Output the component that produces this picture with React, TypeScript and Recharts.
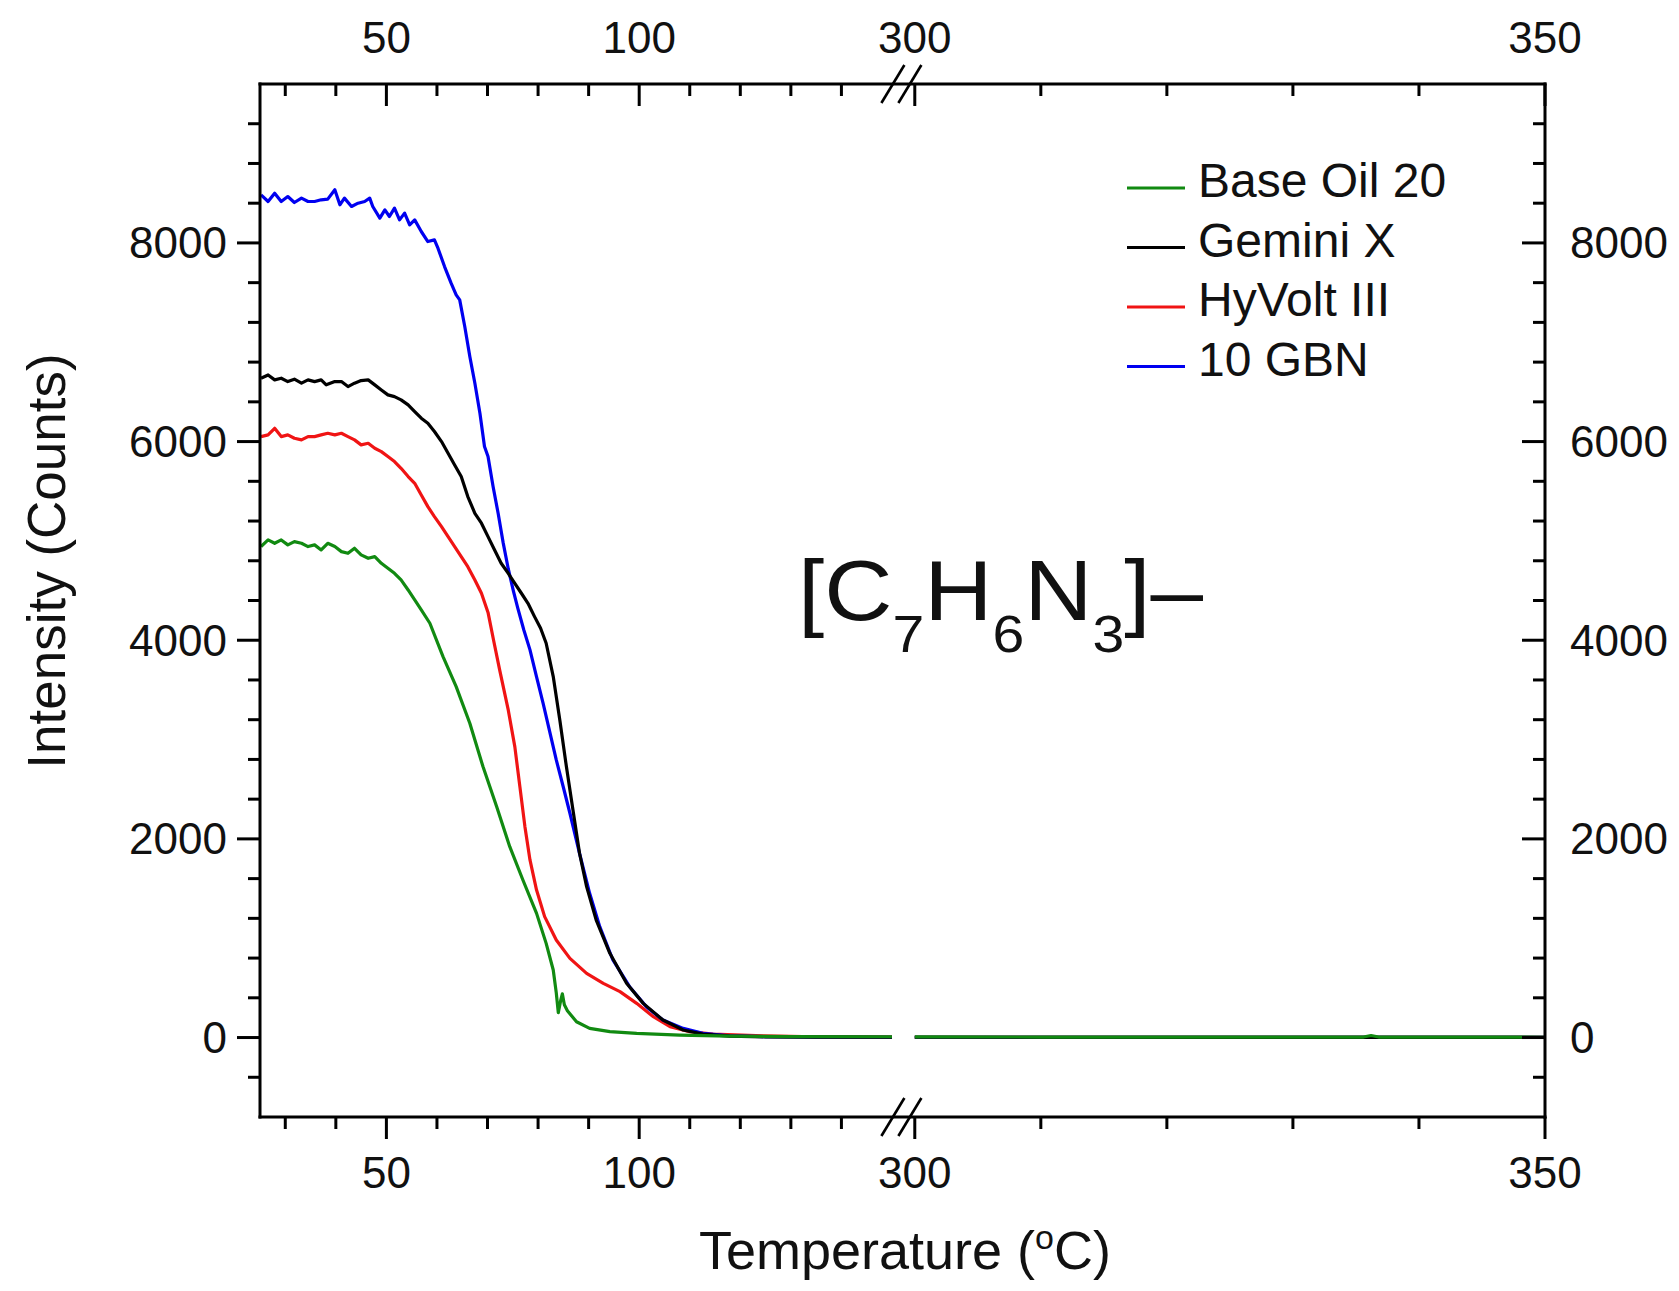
import React from 'react'
import { LineChart, Line, XAxis, YAxis } from 'recharts'

const FONT = '"Liberation Sans", Arial, Helvetica, sans-serif'

// temperature (ºC) / intensity (counts)
const baseOil20: [number, number][] = [
  [25.2, 4943], [26.6, 5010], [27.9, 4976], [29.2, 5010], [30.5, 4960], [31.8, 4993], [33.2, 4976],
  [34.5, 4943], [35.8, 4960], [37.1, 4909], [38.4, 4976], [39.8, 4943], [41.1, 4892], [42.4, 4875],
  [43.7, 4926], [45.0, 4859], [46.4, 4825], [47.7, 4842], [49.0, 4775], [50.3, 4725], [51.6, 4674],
  [52.9, 4607], [54.3, 4506], [55.6, 4406], [56.9, 4305], [58.6, 4171], [61.2, 3835], [63.8, 3533],
  [66.5, 3164], [69.1, 2728], [71.8, 2325], [74.4, 1922], [77.0, 1586], [79.7, 1250], [81.6, 948],
  [83.0, 680], [83.6, 450], [84.0, 250], [84.5, 380], [84.8, 440], [85.2, 330], [85.8, 270],
  [87.6, 159], [90.2, 92], [94.2, 59], [99.5, 42], [108.0, 25], [117.9, 15], [130, 10], [150, 8],
  [300, 6], [310, 5], [320, 5], [330, 4], [335.6, 5], [336.2, 20], [336.8, 5], [343, 4], [350, 3],
]

const geminiX: [number, number][] = [
  [25.2, 6638], [26.6, 6671], [27.9, 6621], [29.2, 6638], [30.5, 6604], [31.8, 6628], [33.2, 6588],
  [34.5, 6621], [35.8, 6604], [37.1, 6621], [38.1, 6571], [39.8, 6604], [41.1, 6604], [42.4, 6554],
  [43.7, 6588], [45.0, 6614], [46.4, 6621], [47.7, 6571], [49.0, 6520], [50.3, 6470], [51.6, 6453],
  [52.9, 6420], [54.3, 6369], [55.6, 6302], [56.9, 6235], [58.2, 6185], [59.5, 6101], [60.9, 6000],
  [62.2, 5883], [63.5, 5765], [64.8, 5648], [66.1, 5446], [67.5, 5278], [68.8, 5178], [70.1, 5043],
  [71.4, 4909], [72.7, 4775], [74.1, 4674], [75.4, 4573], [76.7, 4473], [78.0, 4372], [79.3, 4238],
  [80.5, 4120], [81.6, 3970], [83.0, 3634], [84.3, 3198], [85.6, 2728], [87.0, 2258], [88.2, 1855],
  [89.6, 1519], [91.5, 1183], [94.2, 848], [97.5, 546], [100.8, 344], [104.7, 176], [108.7, 76],
  [112.6, 35], [117.9, 15], [125, 7], [135, 4], [150, 3],
  [300, 3], [325, 2], [350, 2],
]

const hyVoltIII: [number, number][] = [
  [25.2, 6050], [26.6, 6067], [27.9, 6134], [29.2, 6050], [30.5, 6067], [31.8, 6034], [33.2, 6017],
  [34.5, 6050], [35.8, 6050], [37.1, 6067], [38.4, 6084], [39.8, 6067], [41.1, 6084], [42.4, 6050],
  [43.7, 6017], [45.0, 5967], [46.4, 5983], [47.7, 5933], [49.0, 5899], [50.3, 5849], [51.6, 5799],
  [52.9, 5731], [54.3, 5648], [55.6, 5580], [56.9, 5463], [58.2, 5345], [59.5, 5245], [60.9, 5144],
  [62.2, 5043], [63.5, 4943], [64.8, 4842], [66.1, 4741], [67.5, 4607], [68.8, 4473], [70.1, 4280],
  [71.2, 4000], [72.4, 3701], [74.1, 3298], [75.4, 2929], [76.4, 2526], [77.4, 2123], [78.4, 1788],
  [79.7, 1485], [81.3, 1217], [83.6, 982], [86.3, 797], [89.6, 646], [92.9, 546], [96.2, 462],
  [99.5, 344], [102.8, 210], [106.1, 109], [110.0, 59], [114.6, 35], [124.5, 18], [135, 8], [150, 5],
  [300, 3], [325, 2], [350, 2],
]

const gbn10: [number, number][] = [
  [25.2, 8484], [26.6, 8417], [27.9, 8501], [29.2, 8417], [30.5, 8467], [31.8, 8407], [33.2, 8451],
  [34.5, 8417], [35.8, 8417], [37.1, 8434], [38.4, 8441], [39.8, 8535], [40.8, 8384], [41.7, 8451],
  [43.1, 8367], [44.4, 8400], [45.7, 8417], [46.7, 8451], [47.3, 8367], [48.7, 8249], [49.7, 8333],
  [50.6, 8266], [51.6, 8350], [52.6, 8232], [53.6, 8300], [54.6, 8182], [55.6, 8232], [56.9, 8115],
  [58.2, 8014], [59.5, 8031], [60.2, 7947], [61.5, 7762], [62.8, 7595], [63.8, 7477], [64.5, 7427],
  [65.5, 7158], [66.5, 6856], [67.5, 6587], [68.5, 6285], [69.4, 5950], [70.1, 5849], [71.1, 5547],
  [72.1, 5278], [73.1, 4980], [74.1, 4720], [75.1, 4500], [76.0, 4320], [77.2, 4100], [78.4, 3903],
  [79.7, 3630], [81.0, 3365], [82.3, 3080], [83.6, 2795], [85.0, 2520], [86.3, 2258], [88.2, 1855],
  [90.2, 1452], [92.2, 1116], [94.8, 781], [98.1, 512], [101.4, 311], [104.7, 176], [108.7, 92],
  [112.6, 42], [117.9, 18], [125, 8], [135, 4], [150, 3],
  [300, 3], [325, 2], [350, 2],
]

const seriesNames = ['Base Oil 20', 'Gemini X', 'HyVolt III', '10 GBN']
const seriesColors = ['#118a11', '#000000', '#f01414', '#0000f0']

const xTickTemps = [30, 40, 50, 60, 70, 80, 90, 100, 110, 120, 130, 140, 300, 310, 320, 330, 340, 350]
const xMajorTemps = [50, 100, 300, 350]
const yTickValues = [-400, 0, 400, 800, 1200, 1600, 2000, 2400, 2800, 3200, 3600, 4000, 4400, 4800,
  5200, 5600, 6000, 6400, 6800, 7200, 7600, 8000, 8400, 8800, 9200]
const yMajorValues = [0, 2000, 4000, 6000, 8000]

// broken temperature axis: 25–150 then 300–350 (right part stretched)
const LEFT_START = 25
const LEFT_END = 150
const RIGHT_START = 300
const RIGHT_END = 350
const RIGHT_STRETCH = 2.493
const GAP = 4.51

const toAxis = (t: number) =>
  t <= LEFT_END
    ? t - LEFT_START
    : LEFT_END - LEFT_START + GAP + (t - RIGHT_START) * RIGHT_STRETCH
const AXIS_MAX = toAxis(RIGHT_END)
const BREAK_AT = (toAxis(LEFT_END) + toAxis(RIGHT_START)) / 2
const xTicks = [...xTickTemps.map(toAxis), BREAK_AT]

const toRows = (pts: [number, number][]) => {
  const rows: { u: number; v: number | null }[] = []
  pts.forEach(([t, v], i) => {
    if (i > 0 && pts[i - 1][0] <= LEFT_END && t >= RIGHT_START) rows.push({ u: BREAK_AT, v: null })
    rows.push({ u: toAxis(t), v })
  })
  return rows
}

const XTick = ({ x, y, payload, side }: any) => {
  const u = payload.value
  if (Math.abs(u - BREAK_AT) < 1e-6) {
    return (
      <g stroke="#000" strokeWidth={2.6}>
        <line x1={x - 22} y1={y + 19} x2={x + 1} y2={y - 19} />
        <line x1={x - 5} y1={y + 19} x2={x + 18} y2={y - 19} />
      </g>
    )
  }
  const t = xTickTemps.find(d => Math.abs(toAxis(d) - u) < 1e-6) ?? 0
  const major = xMajorTemps.includes(t)
  return (
    <g>
      <line x1={x} y1={y} x2={x} y2={y + (major ? 22 : 12)} stroke="#000" strokeWidth={3} />
      {major && (
        <text x={x} y={side === 'top' ? y - 31 : y + 71} textAnchor="middle" fontSize={44} fontFamily={FONT} fill="#111">
          {t}
        </text>
      )}
    </g>
  )
}

const YTick = ({ x, y, payload, side }: any) => {
  const v = payload.value
  const major = yMajorValues.includes(v)
  return (
    <g>
      <line x1={x} y1={y} x2={x - (major ? 23 : 12)} y2={y} stroke="#000" strokeWidth={3} />
      {major && (
        <text
          x={side === 'left' ? x - 33 : x + 25}
          y={y + 15.5}
          textAnchor={side === 'left' ? 'end' : 'start'}
          fontSize={44}
          fontFamily={FONT}
          fill="#111"
        >
          {v}
        </text>
      )}
    </g>
  )
}

const axisLine = { stroke: '#000', strokeWidth: 3, strokeLinecap: 'square' as const }

export default function App() {
  const allSeries = [baseOil20, geminiX, hyVoltIII, gbn10]
  // draw order: HyVolt, 10 GBN, Gemini, Base Oil on top
  const drawOrder = [2, 3, 1, 0]

  return (
    <div style={{ position: 'absolute', left: 0, top: 0, width: 1679, height: 1291, background: '#fff' }}>
      <LineChart width={1679} height={1291} margin={{ top: 34, right: 34, bottom: 94, left: 160 }}>
        <XAxis
          xAxisId="b"
          dataKey="u"
          type="number"
          domain={[0, AXIS_MAX]}
          allowDataOverflow
          ticks={xTicks}
          interval={0}
          height={80}
          tickSize={0}
          tickMargin={0}
          tickLine={false}
          axisLine={axisLine}
          tick={(p: any) => <XTick {...p} side="bottom" />}
        />
        <XAxis
          xAxisId="t"
          orientation="top"
          dataKey="u"
          type="number"
          domain={[0, AXIS_MAX]}
          allowDataOverflow
          ticks={xTicks}
          interval={0}
          height={50}
          tickSize={0}
          tickMargin={0}
          tickLine={false}
          axisLine={axisLine}
          tick={(p: any) => <XTick {...p} side="top" />}
        />
        <YAxis
          yAxisId="l"
          type="number"
          domain={[-800, 9600]}
          allowDataOverflow
          ticks={yTickValues}
          interval={0}
          width={100}
          tickSize={0}
          tickMargin={0}
          tickLine={false}
          axisLine={axisLine}
          tick={(p: any) => <YTick {...p} side="left" />}
        />
        <YAxis
          yAxisId="r"
          orientation="right"
          type="number"
          domain={[-800, 9600]}
          allowDataOverflow
          ticks={yTickValues}
          interval={0}
          width={100}
          tickSize={0}
          tickMargin={0}
          tickLine={false}
          axisLine={axisLine}
          tick={(p: any) => <YTick {...p} side="right" />}
        />
        {/* invisible copy so the top/right axes have a series bound to them */}
        <Line
          xAxisId="t"
          yAxisId="r"
          data={toRows(baseOil20)}
          dataKey="v"
          stroke="none"
          dot={false}
          activeDot={false}
          legendType="none"
          isAnimationActive={false}
        />
        {drawOrder.map(i => (
          <Line
            key={seriesNames[i]}
            xAxisId="b"
            yAxisId="l"
            data={toRows(allSeries[i])}
            dataKey="v"
            name={seriesNames[i]}
            type="linear"
            stroke={seriesColors[i]}
            strokeWidth={3.2}
            strokeLinejoin="round"
            dot={false}
            activeDot={false}
            isAnimationActive={false}
          />
        ))}
      </LineChart>

      <svg
        width={1679}
        height={1291}
        style={{ position: 'absolute', left: 0, top: 0, pointerEvents: 'none' }}
        fontFamily={FONT}
        fill="#111"
      >
        <text x={65} y={561} fontSize={53} textAnchor="middle" transform="rotate(-90 65 561)">
          Intensity (Counts)
        </text>
        <text x={905} y={1269} fontSize={54} textAnchor="middle">
          Temperature (<tspan fontSize={34} dy={-20}>o</tspan><tspan dy={20}>C)</tspan>
        </text>

        {seriesNames.map((name, i) => (
          <g key={name}>
            <line x1={1127} x2={1185} y1={188 + i * 59.5} y2={188 + i * 59.5} stroke={seriesColors[i]} strokeWidth={3} />
            <text x={1198} y={197 + i * 59.5} fontSize={48}>{name}</text>
          </g>
        ))}

        <text x={798} y={620} fontSize={86} textLength={405} lengthAdjust="spacingAndGlyphs">
          [C<tspan fontSize={52} dy={32}>7</tspan><tspan dy={-32}>H</tspan><tspan fontSize={52} dy={32}>6</tspan><tspan dy={-32}>N</tspan><tspan fontSize={52} dy={32}>3</tspan><tspan dy={-32}>]–</tspan>
        </text>
      </svg>
    </div>
  )
}
